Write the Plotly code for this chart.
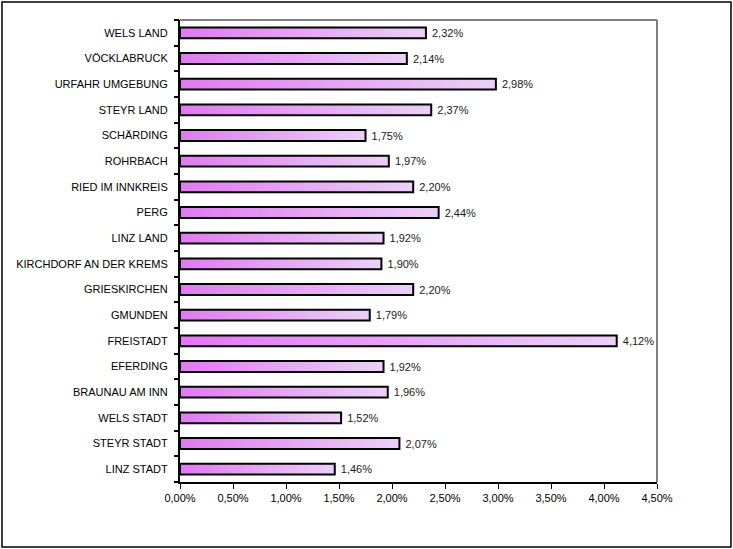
import plotly.graph_objects as go

# districts, bottom to top as drawn
districts = [
    "LINZ STADT", "STEYR STADT", "WELS STADT", "BRAUNAU AM INN", "EFERDING",
    "FREISTADT", "GMUNDEN", "GRIESKIRCHEN", "KIRCHDORF AN DER KREMS", "LINZ LAND",
    "PERG", "RIED IM INNKREIS", "ROHRBACH", "SCHÄRDING", "STEYR LAND",
    "URFAHR UMGEBUNG", "VÖCKLABRUCK", "WELS LAND",
]
shares = [
    0.0146, 0.0207, 0.0152, 0.0196, 0.0192,
    0.0412, 0.0179, 0.0220, 0.0190, 0.0192,
    0.0244, 0.0220, 0.0197, 0.0175, 0.0237,
    0.0298, 0.0214, 0.0232,
]
x_ticks = [0, 0.005, 0.01, 0.015, 0.02, 0.025, 0.03, 0.035, 0.04, 0.045]

bar_w = 0.42
grad = [[0, "#e07af0"], [1, "#ecd0f8"]]
n = len(districts)

fig = go.Figure()

# gradient fill under each bar (one polygon per bar so the gradient runs per bar)
for i, v in enumerate(shares):
    h = bar_w / 2
    fig.add_trace(go.Scatter(
        x=[0, v, v, 0, 0], y=[i - h, i - h, i + h, i + h, i - h],
        mode="lines", fill="toself", line=dict(width=0),
        fillgradient=dict(type="horizontal", start=0, stop=v, colorscale=grad),
        hoverinfo="skip", showlegend=False, yaxis="y",
    ))

# the bars themselves: outline + value labels
fig.add_trace(go.Bar(
    x=shares, y=districts, orientation="h", yaxis="y2",
    width=bar_w,
    marker=dict(color="rgba(0,0,0,0)", line=dict(color="black", width=2)),
    texttemplate=" %{x:.2%}", textposition="outside", constraintext="none",
    textfont=dict(size=11, color="#1a1a1a"),
    cliponaxis=False, showlegend=False,
))

fig.update_layout(
    width=733, height=549,
    margin=dict(l=180, r=76, t=20, b=67),
    plot_bgcolor="white", paper_bgcolor="white",
    separators=",.",
    font=dict(family="Liberation Sans, Arial, sans-serif", size=11, color="black"),
    xaxis=dict(
        range=[0, 0.045], tickvals=x_ticks, tickformat=".2%",
        showgrid=False, zeroline=False,
        showline=True, linecolor="black", linewidth=2,
        ticks="outside", ticklen=5, tickcolor="black", tickwidth=1,
    ),
    # base numeric axis: only carries the boundary tick marks between categories
    yaxis=dict(
        range=[-0.5, n - 0.5], fixedrange=True,
        tickvals=[k - 0.5 for k in range(n + 1)], showticklabels=False,
        ticks="outside", ticklen=5, tickcolor="black", tickwidth=1.5,
        showgrid=False, zeroline=False, showline=False,
    ),
    yaxis2=dict(
        overlaying="y", side="left", type="category",
        categoryorder="array", categoryarray=districts,
        range=[-0.5, n - 0.5],
        showgrid=False, zeroline=False,
        showline=True, linecolor="black", linewidth=2,
        ticks="outside", ticklen=5, tickcolor="rgba(0,0,0,0)",
        ticksuffix="\u00a0",
    ),
    shapes=[
        # grey top/right frame of the plot area
        dict(type="line", xref="paper", yref="paper", x0=0, x1=1, y0=1, y1=1,
             line=dict(color="#808080", width=2)),
        dict(type="line", xref="paper", yref="paper", x0=1, x1=1, y0=0, y1=1,
             line=dict(color="#808080", width=2)),
        # outer chart border
        dict(type="rect", xref="paper", yref="paper",
             x0=-0.3732, x1=1.1551, y0=-0.1407, y1=1.039,
             line=dict(color="black", width=1.5)),
    ],
)

# page body margin would push the figure 8px off the window
fig.write_html("out.html", config={"displayModeBar": False},
               post_script="document.body.style.margin='0';")
